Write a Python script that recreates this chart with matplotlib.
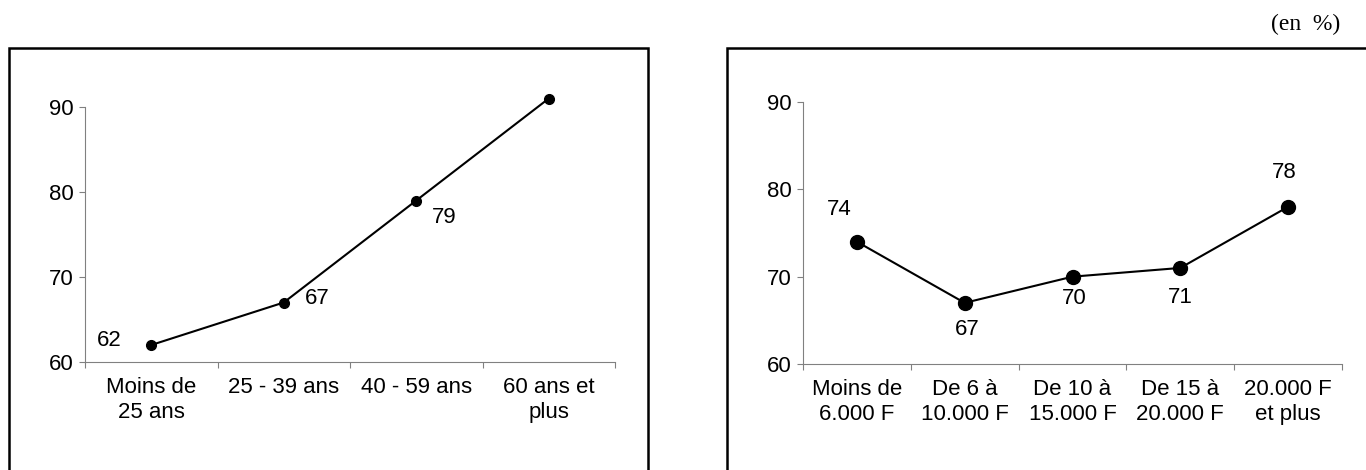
import matplotlib.pyplot as plt
from matplotlib.patches import Rectangle

plt.rcParams['font.family'] = ['Liberation Sans', 'DejaVu Sans']

# par âge
ages = ['Moins de\n25 ans', '25 - 39 ans', '40 - 59 ans', '60 ans et\nplus']
val_ages = [62, 67, 79, 91]
# décalage des étiquettes (points)
off_ages = [(-30, 3), (24, 3), (20, -12), (22, 14)]

# par revenu
revenus = ['Moins de\n6.000 F', 'De 6 à\n10.000 F', 'De 10 à\n15.000 F',
           'De 15 à\n20.000 F', '20.000 F\net plus']
val_revenus = [74, 67, 70, 71, 78]
off_revenus = [(-13, 23), (2, -19), (1, -16), (0, -21), (-3, 25)]

W, H = 1366, 470
FS = 16
fig = plt.figure(figsize=(W / 100, H / 100), dpi=100)


def px(x0, x1, y_top, y_bot):
    return [x0 / W, 1 - y_bot / H, (x1 - x0) / W, (y_bot - y_top) / H]


def panneau(ax, cats, vals, offs, ms):
    n = len(cats)
    x = [i + 0.5 for i in range(n)]
    ax.plot(x, vals, color='black', lw=1.5, marker='o', ms=ms, clip_on=False, zorder=3)
    for xi, v, o in zip(x, vals, offs):
        ax.annotate(str(v), (xi, v), xytext=o, textcoords='offset points',
                    ha='center', va='center', fontsize=FS)
    ax.set_xlim(0, n)
    ax.set_ylim(60, 90)
    ax.set_yticks([60, 70, 80, 90])
    ax.set_xticks(x)
    ax.set_xticklabels(cats, fontsize=FS, linespacing=1.25, multialignment='center')
    ax.set_xticks(range(n + 1), minor=True)
    ax.tick_params(axis='x', which='major', length=0, pad=11)
    ax.tick_params(axis='x', which='minor', length=4, color='#808080', width=0.8)
    ax.tick_params(axis='y', length=4, color='#808080', width=0.8, labelsize=FS, pad=4)
    for s in ['top', 'right']:
        ax.spines[s].set_visible(False)
    for s in ['left', 'bottom']:
        ax.spines[s].set_color('#808080')
        ax.spines[s].set_linewidth(0.8)
    ax.patch.set_alpha(0)


ax1 = fig.add_axes(px(85, 615, 107, 362))
panneau(ax1, ages, val_ages, off_ages, 7)

ax2 = fig.add_axes(px(803, 1342, 102, 364))
panneau(ax2, revenus, val_revenus, off_revenus, 10)

# cadres autour des graphiques
fig.add_artist(Rectangle((9 / W, -0.1), (648 - 9) / W, 1.1 - 48 / H,
                         transform=fig.transFigure, fill=False, ec='black', lw=1.8))
fig.add_artist(Rectangle((727 / W, -0.1), 0.5, 1.1 - 48 / H,
                         transform=fig.transFigure, fill=False, ec='black', lw=1.8))

fig.text(1340 / W, 1 - 24 / H, '(en  %)', ha='right', va='center',
         family='Liberation Serif', fontsize=17)

fig.savefig('out.png', dpi=100)
